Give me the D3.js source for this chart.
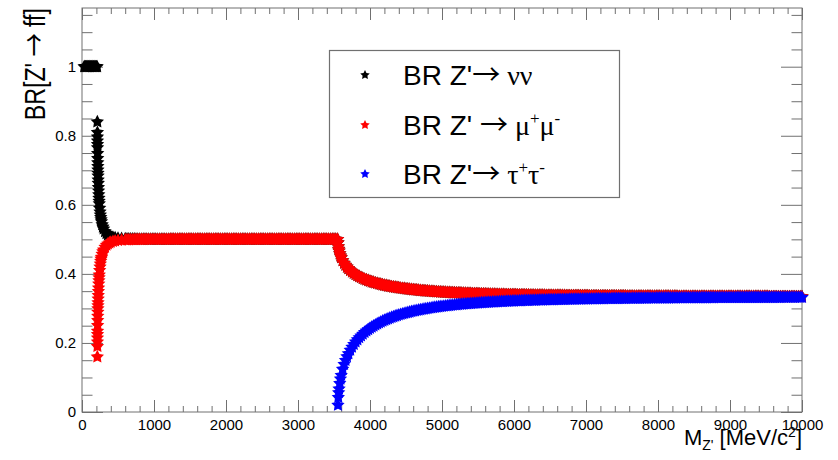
<!DOCTYPE html>
<html>
<head>
<meta charset="utf-8">
<script src="https://cdn.jsdelivr.net/npm/d3@7"></script>
<style>
  body { margin: 0; background: #fff; }
  svg { display: block; }
  text { white-space: pre; }
</style>
</head>
<body>
<svg id="chart" width="838" height="460"></svg>
<script>
// Z' mass grid [MeV/c^2], split at the mu and tau pair thresholds
const massLow = [30,40,50,60,70,80,90,100,110,120,130,140,150,160,170,180,190,200,210];
const massMid = [
  213,214,214.5,215,215.5,216,217,218,219,220,221,222,223,224.5,226,228,230,232.5,235,237.5,
  240,245,250,255,260,265,270,280,290,300,320,340,360,380,400,430,460,500,550,600,
  625,650,675,700,725,750,775,800,825,850,875,900,925,950,975,1000,
  1025,1050,1075,1100,1125,1150,1175,1200,1225,1250,1275,1300,1325,1350,1375,1400,1425,1450,1475,1500,
  1525,1550,1575,1600,1625,1650,1675,1700,1725,1750,1775,1800,1825,1850,1875,1900,1925,1950,1975,2000,
  2025,2050,2075,2100,2125,2150,2175,2200,2225,2250,2275,2300,2325,2350,2375,2400,2425,2450,2475,2500,
  2525,2550,2575,2600,2625,2650,2675,2700,2725,2750,2775,2800,2825,2850,2875,2900,2925,2950,2975,3000,
  3025,3050,3075,3100,3125,3150,3175,3200,3225,3250,3275,3300,3325,3350,3375,3400,3425,3450,3475,3500,3525,3550];
const massHigh = [
  3555,3560,3565,3570,3580,3590,3600,3620,3640,3660,3680,3700,3725,3750,3775,3800,
  3825,3850,3875,3900,3925,3950,3975,4000,
  4025,4050,4075,4100,4125,4150,4175,4200,4225,4250,4275,4300,4325,4350,4375,4400,4425,4450,4475,4500,
  4525,4550,4575,4600,4625,4650,4675,4700,4725,4750,4775,4800,4825,4850,4875,4900,4925,4950,4975,5000,
  5025,5050,5075,5100,5125,5150,5175,5200,5225,5250,5275,5300,5325,5350,5375,5400,5425,5450,5475,5500,
  5525,5550,5575,5600,5625,5650,5675,5700,5725,5750,5775,5800,5825,5850,5875,5900,5925,5950,5975,6000,
  6025,6050,6075,6100,6125,6150,6175,6200,6225,6250,6275,6300,6325,6350,6375,6400,6425,6450,6475,6500,
  6525,6550,6575,6600,6625,6650,6675,6700,6725,6750,6775,6800,6825,6850,6875,6900,6925,6950,6975,7000,
  7025,7050,7075,7100,7125,7150,7175,7200,7225,7250,7275,7300,7325,7350,7375,7400,7425,7450,7475,7500,
  7525,7550,7575,7600,7625,7650,7675,7700,7725,7750,7775,7800,7825,7850,7875,7900,7925,7950,7975,8000,
  8025,8050,8075,8100,8125,8150,8175,8200,8225,8250,8275,8300,8325,8350,8375,8400,8425,8450,8475,8500,
  8525,8550,8575,8600,8625,8650,8675,8700,8725,8750,8775,8800,8825,8850,8875,8900,8925,8950,8975,9000,
  9025,9050,9075,9100,9125,9150,9175,9200,9225,9250,9275,9300,9325,9350,9375,9400,9425,9450,9475,9500,
  9525,9550,9575,9600,9625,9650,9675,9700,9725,9750,9775,9800,9825,9850,9875,9900,9925,9950,9975,10000];

// BR(Z' -> nu nu) on massLow + massMid + massHigh
const brNuNu = [
  1,1,1,1,1,1,1,1,1,1,1,1,1,1,1,1,1,1,1,
  .8403,.8098,.7968,.7853,.7750,.7656,.7489,.7347,.7221,.7110,.7010,.6919,.6836,.6724,.6624,.6507,.6404,.6292,.6194,.6108,
  .6032,.5902,.5796,.5708,.5634,.5570,.5515,.5426,.5357,.5303,.5223,.5169,.5130,.5102,.5082,.5061,.5046,.5032,.5022,.5015,
  .5013,.5011,.5009,.5008,.5007,.5006,.5005,.5005,.5004,.5004,.5003,.5003,.5003,.5002,.5002,.5002,
  .5002,.5001,.5001,.5001,.5001,.5001,.5001,.5001,.5,.5,.5,.5,.5,.5,.5,.5,.5,.5,.5,.5,
  .5,.5,.5,.5,.5,.5,.5,.5,.5,.5,.5,.5,.5,.5,.5,.5,.5,.5,.5,.5,
  .5,.5,.5,.5,.5,.5,.5,.5,.5,.5,.5,.5,.5,.5,.5,.5,.5,.5,.5,.5,
  .5,.5,.5,.5,.5,.5,.5,.5,.5,.5,.5,.5,.5,.5,.5,.5,.5,.5,.5,.5,
  .5,.5,.5,.5,.5,.5,.5,.5,.5,.5,.5,.5,.5,.5,.5,.5,.5,.5,.5,.5,.5,.5,
  .4901,.4787,.4719,.4667,.4586,.4522,.4469,.4382,.4311,.4252,.4200,.4155,.4105,.4061,.4021,.3986,
  .3954,.3924,.3897,.3872,.3848,.3827,.3806,.3788,
  .3771,.3755,.3739,.3723,.3710,.3697,.3684,.3671,.3661,.3650,.3640,.3629,.3621,.3612,.3603,.3595,.3587,.3580,.3573,.3565,
  .3559,.3553,.3547,.3541,.3535,.3530,.3524,.3519,.3515,.3510,.3505,.3501,.3497,.3493,.3489,.3485,.3481,.3478,.3474,.3471,
  .3468,.3465,.3462,.3459,.3456,.3453,.3450,.3448,.3445,.3443,.3440,.3438,.3436,.3434,.3432,.3430,.3428,.3426,.3424,.3422,
  .3420,.3418,.3417,.3415,.3413,.3412,.3410,.3409,.3407,.3406,.3405,.3403,.3402,.3401,.3399,.3398,.3397,.3396,.3394,.3393,
  .3392,.3391,.3390,.3389,.3388,.3387,.3386,.3385,.3384,.3383,.3383,.3382,.3381,.3380,.3379,.3378,.3378,.3377,.3376,.3376,
  .3375,.3374,.3374,.3373,.3372,.3372,.3371,.3371,.3370,.3369,.3369,.3368,.3368,.3367,.3367,.3366,.3366,.3365,.3365,.3364,
  .3364,.3363,.3363,.3362,.3362,.3361,.3361,.3361,.3360,.3360,.3359,.3359,.3359,.3358,.3358,.3358,.3357,.3357,.3357,.3356,
  .3356,.3356,.3355,.3355,.3355,.3354,.3354,.3354,.3354,.3353,.3353,.3353,.3352,.3352,.3352,.3352,.3351,.3351,.3351,.3351,
  .3351,.3350,.3350,.3350,.3350,.3349,.3349,.3349,.3349,.3349,.3348,.3348,.3348,.3348,.3348,.3347,.3347,.3347,.3347,.3347,
  .3347,.3346,.3346,.3346,.3346,.3346,.3346,.3345,.3345,.3345,.3345,.3345,.3345,.3345,.3345,.3344,.3344,.3344,.3344,.3344,
  .3344,.3344,.3344,.3343,.3343,.3343,.3343,.3343,.3343,.3343,.3343,.3342,.3342,.3342,.3342,.3342,.3342,.3342,.3342,.3342,
  .3342,.3341,.3341,.3341,.3341,.3341,.3341,.3341,.3341,.3341,.3341,.3341,.3341,.3340,.3340,.3340,.3340,.3340,.3340,.3340];

// BR(Z' -> mu+ mu-) on massMid + massHigh
const brMuMu = [
  .1597,.1902,.2032,.2147,.2250,.2344,.2511,.2653,.2779,.2890,.2990,.3081,.3164,.3276,.3376,.3493,.3596,.3708,.3806,.3892,
  .3968,.4098,.4204,.4292,.4366,.4430,.4485,.4574,.4643,.4697,.4777,.4831,.4870,.4898,.4918,.4939,.4954,.4968,.4978,.4985,
  .4987,.4989,.4991,.4992,.4993,.4994,.4995,.4995,.4996,.4996,.4997,.4997,.4997,.4998,.4998,.4998,
  .4998,.4999,.4999,.4999,.4999,.4999,.4999,.4999,.5,.5,.5,.5,.5,.5,.5,.5,.5,.5,.5,.5,
  .5,.5,.5,.5,.5,.5,.5,.5,.5,.5,.5,.5,.5,.5,.5,.5,.5,.5,.5,.5,
  .5,.5,.5,.5,.5,.5,.5,.5,.5,.5,.5,.5,.5,.5,.5,.5,.5,.5,.5,.5,
  .5,.5,.5,.5,.5,.5,.5,.5,.5,.5,.5,.5,.5,.5,.5,.5,.5,.5,.5,.5,
  .5,.5,.5,.5,.5,.5,.5,.5,.5,.5,.5,.5,.5,.5,.5,.5,.5,.5,.5,.5,.5,.5,
  .4901,.4787,.4719,.4667,.4586,.4522,.4469,.4382,.4311,.4252,.4200,.4155,.4105,.4061,.4021,.3986,
  .3954,.3924,.3897,.3872,.3848,.3827,.3806,.3788,
  .3771,.3755,.3739,.3723,.3710,.3697,.3684,.3671,.3661,.3650,.3640,.3629,.3621,.3612,.3603,.3595,.3587,.3580,.3573,.3565,
  .3559,.3553,.3547,.3541,.3535,.3530,.3524,.3519,.3515,.3510,.3505,.3501,.3497,.3493,.3489,.3485,.3481,.3478,.3474,.3471,
  .3468,.3465,.3462,.3459,.3456,.3453,.3450,.3448,.3445,.3443,.3440,.3438,.3436,.3434,.3432,.3430,.3428,.3426,.3424,.3422,
  .3420,.3418,.3417,.3415,.3413,.3412,.3410,.3409,.3407,.3406,.3405,.3403,.3402,.3401,.3399,.3398,.3397,.3396,.3394,.3393,
  .3392,.3391,.3390,.3389,.3388,.3387,.3386,.3385,.3384,.3383,.3383,.3382,.3381,.3380,.3379,.3378,.3378,.3377,.3376,.3376,
  .3375,.3374,.3374,.3373,.3372,.3372,.3371,.3371,.3370,.3369,.3369,.3368,.3368,.3367,.3367,.3366,.3366,.3365,.3365,.3364,
  .3364,.3363,.3363,.3362,.3362,.3361,.3361,.3361,.3360,.3360,.3359,.3359,.3359,.3358,.3358,.3358,.3357,.3357,.3357,.3356,
  .3356,.3356,.3355,.3355,.3355,.3354,.3354,.3354,.3354,.3353,.3353,.3353,.3352,.3352,.3352,.3352,.3351,.3351,.3351,.3351,
  .3351,.3350,.3350,.3350,.3350,.3349,.3349,.3349,.3349,.3349,.3348,.3348,.3348,.3348,.3348,.3347,.3347,.3347,.3347,.3347,
  .3347,.3346,.3346,.3346,.3346,.3346,.3346,.3345,.3345,.3345,.3345,.3345,.3345,.3345,.3345,.3344,.3344,.3344,.3344,.3344,
  .3344,.3344,.3344,.3343,.3343,.3343,.3343,.3343,.3343,.3343,.3343,.3342,.3342,.3342,.3342,.3342,.3342,.3342,.3342,.3342,
  .3342,.3341,.3341,.3341,.3341,.3341,.3341,.3341,.3341,.3341,.3341,.3341,.3341,.3340,.3340,.3340,.3340,.3340,.3340,.3340];

// BR(Z' -> tau+ tau-) on massHigh
const brTauTau = [
  .0197,.0426,.0561,.0666,.0828,.0956,.1062,.1237,.1378,.1497,.1600,.1690,.1790,.1879,.1958,.2029,
  .2093,.2153,.2207,.2257,.2304,.2347,.2387,.2425,
  .2459,.2491,.2523,.2554,.2581,.2607,.2632,.2657,.2679,.2701,.2721,.2741,.2759,.2777,.2794,.2811,.2826,.2841,.2855,.2869,
  .2882,.2895,.2907,.2919,.2930,.2941,.2952,.2962,.2971,.2980,.2989,.2998,.3007,.3015,.3023,.3030,.3038,.3045,.3052,.3058,
  .3065,.3071,.3077,.3083,.3089,.3095,.3100,.3105,.3110,.3115,.3120,.3125,.3129,.3133,.3137,.3141,.3145,.3149,.3153,.3157,
  .3160,.3164,.3167,.3170,.3174,.3177,.3180,.3183,.3186,.3188,.3191,.3194,.3197,.3199,.3202,.3204,.3207,.3209,.3212,.3214,
  .3216,.3218,.3220,.3222,.3224,.3226,.3228,.3230,.3232,.3233,.3235,.3237,.3239,.3240,.3242,.3243,.3245,.3246,.3248,.3249,
  .3250,.3251,.3253,.3254,.3255,.3256,.3258,.3259,.3260,.3261,.3262,.3263,.3265,.3266,.3267,.3268,.3269,.3270,.3271,.3272,
  .3273,.3274,.3275,.3275,.3276,.3277,.3278,.3279,.3280,.3280,.3281,.3282,.3283,.3283,.3284,.3285,.3286,.3286,.3287,.3287,
  .3288,.3288,.3289,.3290,.3290,.3291,.3292,.3292,.3293,.3293,.3294,.3294,.3295,.3295,.3296,.3296,.3297,.3297,.3298,.3298,
  .3298,.3299,.3299,.3300,.3300,.3301,.3301,.3302,.3302,.3302,.3303,.3303,.3304,.3304,.3304,.3305,.3305,.3305,.3306,.3306,
  .3306,.3307,.3307,.3307,.3308,.3308,.3308,.3309,.3309,.3309,.3309,.3310,.3310,.3310,.3310,.3311,.3311,.3311,.3311,.3312,
  .3312,.3312,.3312,.3313,.3313,.3313,.3313,.3314,.3314,.3314,.3314,.3315,.3315,.3315,.3315,.3315,.3316,.3316,.3316,.3316,
  .3316,.3316,.3317,.3317,.3317,.3317,.3317,.3317,.3318,.3318,.3318,.3318,.3318,.3318,.3319,.3319,.3319,.3319,.3319,.3319];

const xMajorTicks = [0,1000,2000,3000,4000,5000,6000,7000,8000,9000,10000];
const yMajorTicks = [0,0.2,0.4,0.6,0.8,1];

const svg = d3.select("#chart");
svg.selectAll("*").remove();

const W = 838, H = 460;
const margin = {top: 8, right: 36, bottom: 48, left: 82};
const sans = "'Liberation Sans', Arial, Helvetica, sans-serif";
const serif = "'Liberation Serif', 'Times New Roman', serif";
const arrowFont = "'Noto Sans CJK SC', 'Liberation Sans', sans-serif";
const frameColor = "#707070";

const x = d3.scaleLinear().domain([0, 10000]).range([margin.left, W - margin.right]);
const y = d3.scaleLinear().domain([0, 1.17]).range([H - margin.bottom, margin.top]);

svg.append("rect").attr("width", W).attr("height", H).attr("fill", "#fff");

// minor ticks
const xMinor = d3.range(0, 51).filter(i => i % 5 !== 0).map(i => i * 200);
const yMinor = d3.range(0, 24).filter(i => i % 4 !== 0).map(i => i * 0.05);

function styleAxis(g) {
  g.select(".domain").remove();
  g.selectAll("line").attr("stroke", frameColor).attr("stroke-width", 1);
  g.selectAll("text").attr("font-family", sans).attr("font-size", 15).attr("fill", "#000");
}

// bottom
svg.append("g").attr("transform", `translate(0,${y(0)})`)
  .call(d3.axisBottom(x).tickValues(xMajorTicks).tickSize(-12).tickPadding(7).tickFormat(d3.format("d")))
  .call(styleAxis);
svg.append("g").attr("transform", `translate(0,${y(0)})`)
  .call(d3.axisBottom(x).tickValues(xMinor).tickSize(-6).tickFormat(""))
  .call(styleAxis);
// top
svg.append("g").attr("transform", `translate(0,${y(1.17)})`)
  .call(d3.axisTop(x).tickValues(xMajorTicks).tickSize(-12).tickFormat(""))
  .call(styleAxis);
svg.append("g").attr("transform", `translate(0,${y(1.17)})`)
  .call(d3.axisTop(x).tickValues(xMinor).tickSize(-6).tickFormat(""))
  .call(styleAxis);
// left
svg.append("g").attr("transform", `translate(${x(0)},0)`)
  .call(d3.axisLeft(y).tickValues(yMajorTicks).tickSize(-21).tickPadding(6).tickFormat(d3.format("~g")))
  .call(styleAxis);
svg.append("g").attr("transform", `translate(${x(0)},0)`)
  .call(d3.axisLeft(y).tickValues(yMinor).tickSize(-10.5).tickFormat(""))
  .call(styleAxis);
// right
svg.append("g").attr("transform", `translate(${x(10000)},0)`)
  .call(d3.axisRight(y).tickValues(yMajorTicks).tickSize(-21).tickFormat(""))
  .call(styleAxis);
svg.append("g").attr("transform", `translate(${x(10000)},0)`)
  .call(d3.axisRight(y).tickValues(yMinor).tickSize(-10.5).tickFormat(""))
  .call(styleAxis);

// frame
svg.append("rect")
  .attr("x", x(0)).attr("y", y(1.17))
  .attr("width", x(10000) - x(0)).attr("height", y(0) - y(1.17))
  .attr("fill", "none").attr("stroke", frameColor).attr("stroke-width", 1);

// ROOT-like full star marker (point up)
function starPath(R, r) {
  const p = d3.path();
  for (let i = 0; i < 10; i++) {
    const a = Math.PI * i / 5;
    const rad = i % 2 ? r : R;
    const px = rad * Math.sin(a), py = -rad * Math.cos(a);
    if (i === 0) p.moveTo(px, py); else p.lineTo(px, py);
  }
  p.closePath();
  return p.toString();
}
const star = starPath(7, 3.6);

const allMass = massLow.concat(massMid, massHigh);
const series = [
  {color: "#000000", pts: d3.zip(allMass, brNuNu)},
  {color: "#ff0000", pts: d3.zip(massMid.concat(massHigh), brMuMu)},
  {color: "#0000ff", pts: d3.zip(massHigh, brTauTau)}
];
series.forEach(s => {
  svg.append("g").selectAll("path").data(s.pts).join("path")
    .attr("transform", d => `translate(${x(d[0])},${y(d[1])})`)
    .attr("d", star)
    .attr("fill", s.color);
});

// axis titles
const xt = svg.append("text")
  .attr("x", x(10000)).attr("y", 445)
  .attr("text-anchor", "end").attr("font-family", sans).attr("font-size", 22).attr("fill", "#000");
xt.append("tspan").text("M");
xt.append("tspan").attr("font-size", 14).attr("dy", 5).text("Z'");
xt.append("tspan").attr("dy", -5).text(" [MeV/c");
xt.append("tspan").attr("font-size", 14).attr("dy", -8).text("2");
xt.append("tspan").attr("dy", 8).text("]");

const yt = svg.append("text")
  .attr("transform", `translate(45,${y(1.17)}) rotate(-90) scale(0.8,1)`)
  .attr("text-anchor", "end").attr("font-family", sans).attr("font-size", 29).attr("fill", "#000");
yt.append("tspan").text("BR[Z' ");
yt.append("tspan").attr("font-family", arrowFont).text("\u2192");
yt.append("tspan").text(" ff]");

// legend
svg.append("rect")
  .attr("x", 329.5).attr("y", 50.5).attr("width", 290).attr("height", 147)
  .attr("fill", "#fff").attr("stroke", frameColor).attr("stroke-width", 1.2);

const legendStar = starPath(5, 2.5);
const legendRows = [
  {color: "#000000", cy: 75, parts: [
    {t: "BR Z'", f: sans}, {t: "\u2192", f: arrowFont}, {t: " \u03bd\u03bd", f: serif}]},
  {color: "#ff0000", cy: 125, parts: [
    {t: "BR Z' ", f: sans}, {t: "\u2192", f: arrowFont}, {t: " \u03bc", f: serif},
    {t: "+", f: serif, sup: true}, {t: "\u03bc", f: serif, down: true}, {t: "-", f: serif, sup: true}]},
  {color: "#0000ff", cy: 174, parts: [
    {t: "BR Z'", f: sans}, {t: "\u2192", f: arrowFont}, {t: " \u03c4", f: serif},
    {t: "+", f: serif, sup: true}, {t: "\u03c4", f: serif, down: true}, {t: "-", f: serif, sup: true}]}
];
legendRows.forEach(r => {
  svg.append("path")
    .attr("transform", `translate(365,${r.cy})`)
    .attr("d", legendStar).attr("fill", r.color);
  const t = svg.append("text")
    .attr("x", 403).attr("y", r.cy + 10)
    .attr("font-size", 28).attr("fill", "#000");
  r.parts.forEach(p => {
    const ts = t.append("tspan").attr("font-family", p.f).text(p.t);
    if (p.sup) ts.attr("font-size", 17).attr("dy", -11);
    if (p.down) ts.attr("dy", 11);
  });
});
</script>
</body>
</html>
